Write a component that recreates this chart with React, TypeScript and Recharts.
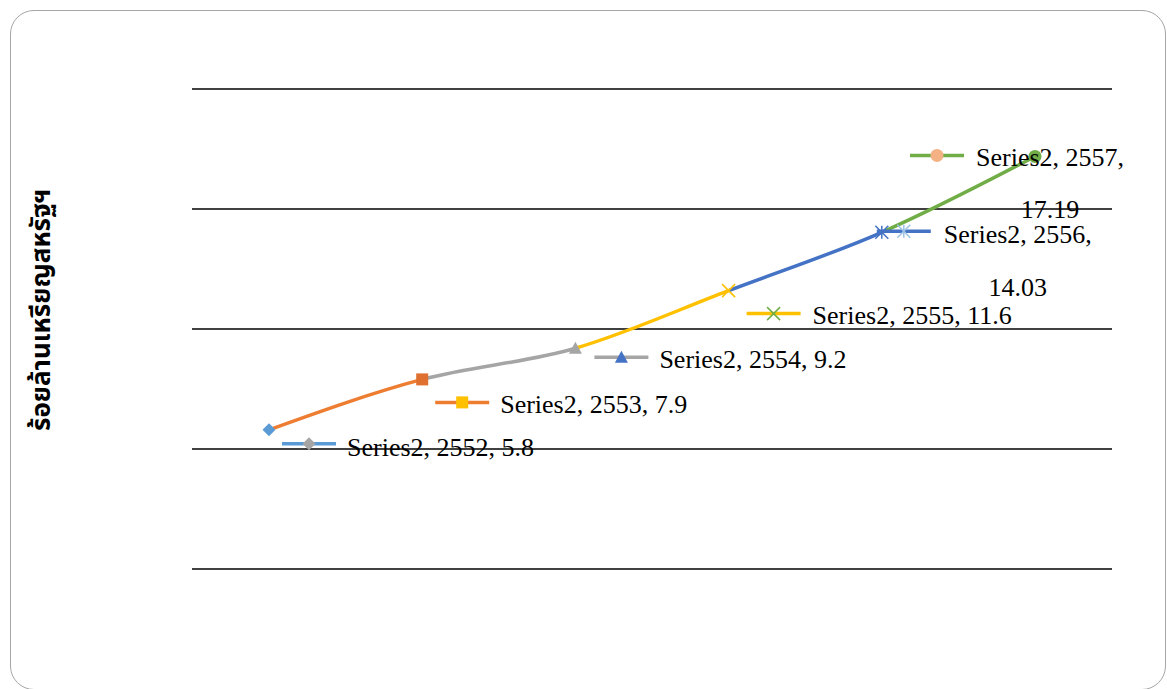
import React from "react";
import { LineChart, Line, XAxis, YAxis, CartesianGrid, LabelList } from "recharts";

const years = ["2552", "2553", "2554", "2555", "2556", "2557"];
const values = [5.8, 7.9, 9.2, 11.6, 14.03, 17.19];
const yTicks = [0, 5, 10, 15, 20];
const seriesName = "Series2";
const yTitle = "ร้อยล้านเหรียญสหรัฐฯ";

// colour of the segment that ends at point i + 1
const segmentColors = ["#ED7D31", "#A5A5A5", "#FFC000", "#4472C4", "#70AD47"];
const markerShapes = ["diamond", "square", "triangle", "x", "star", "circle"];
const markerColors = ["#5B9BD5", "#E07030", "#A5A5A5", "#FFC000", "#4472C4", "#70AD47"];
const keyLineColors = ["#5B9BD5", "#ED7D31", "#A5A5A5", "#FFC000", "#4472C4", "#70AD47"];
const keyMarkerColors = ["#A5A5A5", "#FFC000", "#4472C4", "#70AD47", "#9DC3E6", "#F4B183"];

// label placement relative to the point: legend key start, key y, text start, baseline, second line gap
const labelPos = [
  { kx: 13, ky: 14, tx: 78, ty: 26, wrap: false, gap: 0 },
  { kx: 13, ky: 23, tx: 78, ty: 34, wrap: false, gap: 0 },
  { kx: 19, ky: 9, tx: 84, ty: 20, wrap: false, gap: 0 },
  { kx: 18, ky: 23, tx: 84, ty: 33, wrap: false, gap: 0 },
  { kx: -5, ky: -1, tx: 62, ty: 11, wrap: true, gap: 53 },
  { kx: -125, ky: -1, tx: -59, ty: 10, wrap: true, gap: 52 },
];

const data = years.map((year, i) => ({ year, value: values[i] }));
const serif = "'Liberation Serif', 'Times New Roman', serif";

function Marker({ kind, cx, cy, color, s = 6.5 }: { kind: string; cx: number; cy: number; color: string; s?: number }) {
  switch (kind) {
    case "diamond":
      return <polygon points={`${cx},${cy - s} ${cx + s},${cy} ${cx},${cy + s} ${cx - s},${cy}`} fill={color} />;
    case "square":
      return <rect x={cx - s + 0.5} y={cy - s + 0.5} width={2 * s - 1} height={2 * s - 1} fill={color} />;
    case "triangle":
      return <polygon points={`${cx},${cy - s} ${cx + s},${cy + s - 1} ${cx - s},${cy + s - 1}`} fill={color} />;
    case "x":
      return (
        <g stroke={color} strokeWidth={1.5}>
          <line x1={cx - s} y1={cy - s} x2={cx + s} y2={cy + s} />
          <line x1={cx - s} y1={cy + s} x2={cx + s} y2={cy - s} />
        </g>
      );
    case "star":
      return (
        <g stroke={color} strokeWidth={1.5}>
          <line x1={cx - s} y1={cy - s} x2={cx + s} y2={cy + s} />
          <line x1={cx - s} y1={cy + s} x2={cx + s} y2={cy - s} />
          <line x1={cx} y1={cy - s} x2={cx} y2={cy + s} />
        </g>
      );
    default:
      return <circle cx={cx} cy={cy} r={s} fill={color} />;
  }
}

function PointDot(props: any) {
  const { cx, cy, index } = props;
  if (cx == null || cy == null) return null;
  return <Marker key={`dot-${index}`} kind={markerShapes[index]} cx={cx} cy={cy} color={markerColors[index]} />;
}

function PointLabel(props: any) {
  const { x, y, index } = props;
  const p = labelPos[index];
  const kx = x + p.kx;
  const ky = y + p.ky;
  const first = p.wrap
    ? `${seriesName}, ${years[index]},`
    : `${seriesName}, ${years[index]}, ${values[index]}`;
  return (
    <g>
      <line x1={kx} y1={ky} x2={kx + 54} y2={ky} stroke={keyLineColors[index]} strokeWidth={3.5} />
      <Marker kind={markerShapes[index]} cx={kx + 27} cy={ky} color={keyMarkerColors[index]} />
      <text x={x + p.tx} y={y + p.ty} fontFamily={serif} fontSize={26} fill="#000">
        {first}
      </text>
      {p.wrap && (
        <text x={x + p.tx + 74} y={y + p.ty + p.gap} textAnchor="middle" fontFamily={serif} fontSize={26} fill="#000">
          {values[index]}
        </text>
      )}
    </g>
  );
}

export default function App() {
  const n = values.length - 1;
  return (
    <div style={{ position: "absolute", left: 0, top: 0, width: 1167, height: 689, overflow: "hidden", background: "#fff" }}>
      <div
        style={{
          position: "absolute",
          left: 10,
          top: 10,
          width: 1154,
          height: 678,
          border: "1.3px solid #a6a6a6",
          borderRadius: 24,
        }}
      />
      <div
        style={{
          position: "absolute",
          left: 42,
          top: 310,
          transform: "translate(-50%, -50%) rotate(-90deg)",
          whiteSpace: "nowrap",
          fontFamily: "'Noto Sans Thai', Tahoma, 'DejaVu Sans', sans-serif",
          fontWeight: "bold",
          fontSize: 26,
          color: "#000",
        }}
      >
        {yTitle}
      </div>
      <div style={{ position: "absolute", left: 0, top: 0 }}>
        <LineChart width={1167} height={689} data={data} margin={{ top: 89, right: 55, bottom: 120, left: 192 }}>
          <defs>
            <linearGradient id="segments" x1="0" y1="0" x2="1" y2="0">
              {segmentColors.flatMap((c, i) => [
                <stop key={`a${i}`} offset={i / n} stopColor={c} />,
                <stop key={`b${i}`} offset={(i + 1) / n} stopColor={c} />,
              ])}
            </linearGradient>
          </defs>
          <CartesianGrid vertical={false} stroke="#000" strokeWidth={1.3} />
          <XAxis dataKey="year" hide padding={{ left: 77, right: 77 }} />
          <YAxis hide domain={[0, 20]} ticks={yTicks} />
          <Line
            type="monotone"
            dataKey="value"
            stroke="url(#segments)"
            strokeWidth={3.5}
            dot={PointDot}
            activeDot={false}
            isAnimationActive={false}
          >
            <LabelList dataKey="value" content={PointLabel} />
          </Line>
        </LineChart>
      </div>
    </div>
  );
}
